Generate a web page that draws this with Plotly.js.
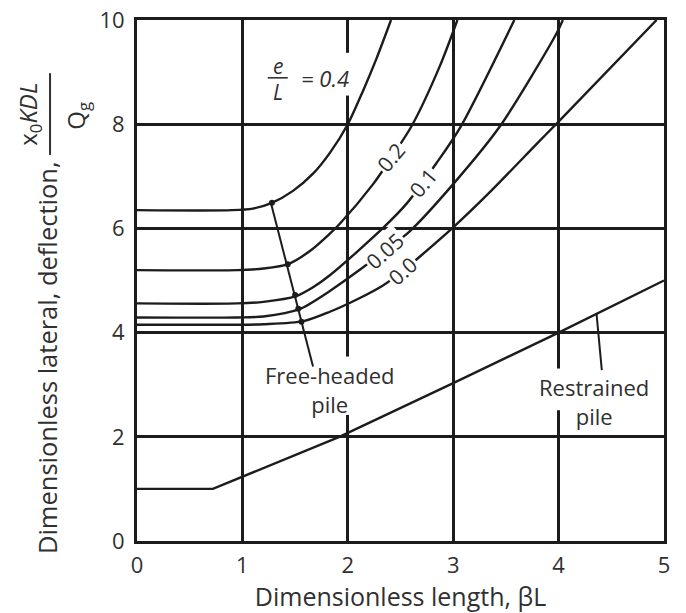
<!DOCTYPE html>
<html><head><meta charset="utf-8">
<script src="https://cdn.plot.ly/plotly-3.0.1.min.js"></script>
<style>html,body{margin:0;padding:0;background:#fff}#chart{width:686px;height:613px}</style>
</head><body><div id="chart"></div>
<script>
// Free-headed pile curves for e/L values
const e04X = [0, 0.9, 1.1, 1.28, 1.48, 1.67, 1.83, 2.0, 2.14, 2.27, 2.41];
const e04Y = [6.35, 6.35, 6.38, 6.49, 6.72, 7.05, 7.45, 8.0, 8.62, 9.25, 10];
const e02X = [0, 0.95, 1.2, 1.44, 1.65, 1.83, 1.92, 2.24, 2.42, 2.61, 2.87, 3.04];
const e02Y = [5.2, 5.2, 5.23, 5.32, 5.58, 5.9, 6.08, 6.85, 7.38, 7.98, 9.1, 10];
const e01X = [0, 0.95, 1.2, 1.51, 1.67, 1.83, 2.33, 2.56, 2.84, 3.07, 3.58];
const e01Y = [4.56, 4.56, 4.59, 4.70, 4.87, 5.1, 6.0, 6.48, 7.25, 7.95, 10];
const e005X = [0, 0.95, 1.2, 1.54, 1.83, 2.11, 2.35, 2.59, 3.0, 3.44, 3.98, 4.04];
const e005Y = [4.29, 4.29, 4.31, 4.45, 4.8, 5.2, 5.57, 5.95, 6.85, 7.95, 9.74, 10];
const e00X = [0, 0.95, 1.2, 1.58, 1.83, 2.1, 2.33, 2.52, 2.69, 3.0, 3.35, 3.82, 4.0, 4.93];
const e00Y = [4.15, 4.15, 4.16, 4.22, 4.4, 4.65, 4.9, 5.18, 5.47, 6.02, 6.7, 7.68, 8.05, 10];
// Restrained pile
const restX = [0, 0.72, 1.92, 3.0, 4.0, 5.0];
const restY = [1.0, 1.0, 2.0, 3.03, 4.0, 5.0];
// Pointer lines and dots
const freePtrX = [1.27, 1.67];
const freePtrY = [6.49, 3.35];
const dotX = [1.28, 1.43, 1.50, 1.53, 1.56];
const dotY = [6.49, 5.31, 4.72, 4.46, 4.21];
const restPtrX = [4.36, 4.41];
const restPtrY = [4.36, 3.28];

const LINE = '#1c1c1c';
const TXT = '#303030';
const FONT = 'Open Sans, sans-serif';

function curve(x, y) {
  return {x: x, y: y, type: 'scatter', mode: 'lines',
    line: {color: LINE, width: 2.4, shape: 'spline', smoothing: 0.8},
    hoverinfo: 'skip', showlegend: false};
}
const traces = [
  curve(e04X, e04Y), curve(e02X, e02Y), curve(e01X, e01Y), curve(e005X, e005Y), curve(e00X, e00Y),
  {x: restX, y: restY, type: 'scatter', mode: 'lines', line: {color: LINE, width: 2.4}, showlegend: false},
  {x: freePtrX, y: freePtrY, type: 'scatter', mode: 'lines', line: {color: LINE, width: 2}, showlegend: false},
  {x: dotX, y: dotY, type: 'scatter', mode: 'markers', marker: {color: LINE, size: 6}, showlegend: false},
  {x: restPtrX, y: restPtrY, type: 'scatter', mode: 'lines', line: {color: LINE, width: 2}, showlegend: false}
];

function lab(text, x, y, ang) {
  return {text: text, x: x, y: y, xref: 'x', yref: 'y', showarrow: false, textangle: ang,
    font: {family: FONT, size: 21, color: TXT}, bgcolor: '#ffffff', borderpad: 1};
}
function ptxt(text, x, y, size, ang) {
  return {text: text, x: x, y: y, xref: 'paper', yref: 'paper', showarrow: false,
    textangle: ang || 0, xanchor: 'center', yanchor: 'middle',
    font: {family: FONT, size: size, color: TXT}};
}

const annotations = [
  lab('0.2', 2.41, 7.37, -50),
  lab('0.1', 2.71, 6.88, -50),
  lab('0.05', 2.35, 5.57, -42),
  lab('0.0', 2.52, 5.18, -42),
  {text: '<i>e</i>', x: 1.335, y: 9.12, xref: 'x', yref: 'y', showarrow: false, font: {family: FONT, size: 21, color: TXT}},
  {text: '<i>L</i>', x: 1.335, y: 8.62, xref: 'x', yref: 'y', showarrow: false, font: {family: FONT, size: 21, color: TXT}},
  {text: '<i>= 0.4</i>', x: 1.78, y: 8.89, xref: 'x', yref: 'y', showarrow: false, font: {family: FONT, size: 22, color: TXT}},
  {text: 'Free-headed<br>pile', x: 1.83, y: 2.91, xref: 'x', yref: 'y', showarrow: false, font: {family: FONT, size: 22, color: TXT}},
  {text: 'Restrained<br>pile', x: 4.34, y: 2.67, xref: 'x', yref: 'y', showarrow: false, font: {family: FONT, size: 22, color: TXT}},
  // y-axis title pieces
  ptxt('Dimensionless lateral, deflection,', -0.1708, 0.353, 25.5, -90),
  ptxt('x<sub>0</sub><i>KDL</i>', -0.205, 0.82, 24, -90),
  ptxt('Q<sub>g</sub>', -0.114, 0.816, 24, -90)
];

const shapes = [
  // fraction bars
  {type: 'line', xref: 'x', yref: 'y', x0: 1.24, x1: 1.43, y0: 8.89, y1: 8.89, line: {color: TXT, width: 1.6}},
  {type: 'line', xref: 'paper', yref: 'paper', x0: -0.165, x1: -0.165, y0: 0.741, y1: 0.898, line: {color: TXT, width: 2}},
  // gaps in grid lines behind the labels
  {type: 'rect', xref: 'x', yref: 'y', x0: 1.93, x1: 2.07, y0: 8.55, y1: 9.37, fillcolor: '#fff', line: {width: 0}},
  {type: 'rect', xref: 'x', yref: 'y', x0: 1.93, x1: 2.07, y0: 2.42, y1: 3.54, fillcolor: '#fff', line: {width: 0}},
  {type: 'rect', xref: 'x', yref: 'y', x0: 3.93, x1: 4.07, y0: 2.51, y1: 3.31, fillcolor: '#fff', line: {width: 0}}
];

const axisCommon = {
  showline: true, mirror: true, linecolor: LINE, linewidth: 3,
  showgrid: true, gridcolor: LINE, gridwidth: 3, zeroline: false,
  ticks: 'outside', ticklen: 3, tickcolor: 'rgba(0,0,0,0)',
  tickfont: {family: FONT, size: 22, color: TXT}, fixedrange: true
};

const layout = {
  width: 686, height: 613,
  margin: {l: 137, r: 22, t: 20, b: 72},
  paper_bgcolor: '#fff', plot_bgcolor: '#fff',
  xaxis: Object.assign({}, axisCommon, {range: [0, 5], dtick: 1, tick0: 0,
    title: {text: 'Dimensionless length, βL', font: {family: FONT, size: 25, color: TXT}, standoff: 12}}),
  yaxis: Object.assign({}, axisCommon, {range: [0, 10], dtick: 2, tick0: 0, ticklen: 5}),
  annotations: annotations,
  shapes: shapes,
  showlegend: false
};

Plotly.newPlot('chart', traces, layout, {staticPlot: true, displayModeBar: false});
</script></body></html>
